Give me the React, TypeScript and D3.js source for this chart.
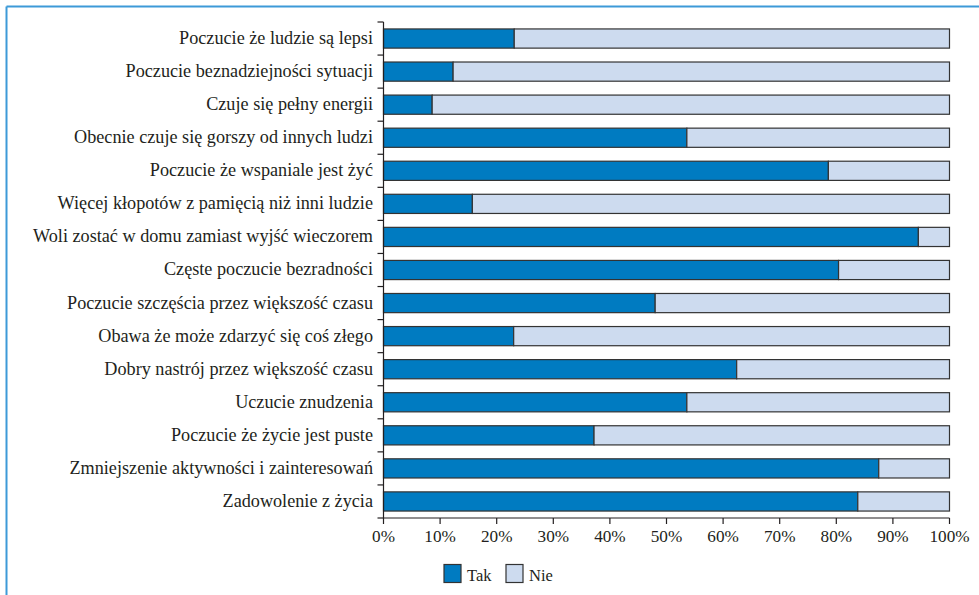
import React from "react";
import * as d3 from "d3";

// Survey items (top to bottom) and share of "Tak" answers in percent
const categories: string[] = [
  "Poczucie że ludzie są lepsi",
  "Poczucie beznadziejności sytuacji",
  "Czuje się pełny energii",
  "Obecnie czuje się gorszy od innych ludzi",
  "Poczucie że wspaniale jest żyć",
  "Więcej kłopotów z pamięcią niż inni ludzie",
  "Woli zostać w domu zamiast wyjść wieczorem",
  "Częste poczucie bezradności",
  "Poczucie szczęścia przez większość czasu",
  "Obawa że może zdarzyć się coś złego",
  "Dobry nastrój przez większość czasu",
  "Uczucie znudzenia",
  "Poczucie że życie jest puste",
  "Zmniejszenie aktywności i zainteresowań",
  "Zadowolenie z życia",
];

const takValues: number[] = [
  23.1, 12.3, 8.6, 53.6, 78.6, 15.7, 94.5, 80.4, 48.0, 23.0, 62.4, 53.6, 37.2, 87.5, 83.8,
];
const nieValues: number[] = takValues.map((v) => 100 - v);

const seriesNames: string[] = ["Tak", "Nie"];
const xTicks: number[] = [0, 10, 20, 30, 40, 50, 60, 70, 80, 90, 100];

const W = 979;
const H = 595;
const FONT = "'Liberation Serif'";
const COLORS = ["#007bc1", "#cddbef"];
const STROKE = "#333";
const INK = "#231f20";

export default function App() {
  const x = d3.scaleLinear().domain([0, 100]).range([383.5, 949.5]);
  const y = d3
    .scaleBand<string>()
    .domain(categories)
    .range([22, 518])
    .paddingInner(0.42)
    .paddingOuter(0.21);
  const step = y.step();
  const y0 = 22;
  const yAxis = 518;

  const stackData = categories.map((c, i) => ({ cat: c, Tak: takValues[i], Nie: nieValues[i] }));
  const stacked = d3.stack<any>().keys(seriesNames)(stackData);

  const boundaries = d3.range(categories.length + 1).map((k) => y0 + k * step);

  return (
    <svg width={W} height={H} style={{ position: "absolute", left: 0, top: 0, background: "#fff" }}>
      {/* frame */}
      <line x1={6.5} y1={6.5} x2={W} y2={6.5} stroke="#3d9ad8" strokeWidth={2} />
      <line x1={6.5} y1={6.5} x2={6.5} y2={H} stroke="#3d9ad8" strokeWidth={2} />

      {/* bars */}
      {stacked.map((layer, li) => (
        <g key={layer.key}>
          {layer.map((d, i) => (
            <rect
              key={i}
              x={x(d[0])}
              y={y(categories[i])}
              width={x(d[1]) - x(d[0])}
              height={y.bandwidth()}
              fill={COLORS[li]}
              stroke={STROKE}
              strokeWidth={1.2}
            />
          ))}
        </g>
      ))}

      {/* y axis */}
      <line x1={x(0)} y1={y0} x2={x(0)} y2={yAxis} stroke={INK} strokeWidth={1.2} />
      {boundaries.map((b, k) => (
        <line key={k} x1={x(0) - 6} y1={b} x2={x(0)} y2={b} stroke={INK} strokeWidth={1.2} />
      ))}
      {categories.map((c) => (
        <text
          key={c}
          x={373}
          y={(y(c) as number) + y.bandwidth() / 2}
          dy="0.3em"
          textAnchor="end"
          fill={INK}
          fontSize={18.2}
          style={{ fontFamily: FONT }}
        >
          {c}
        </text>
      ))}

      {/* x axis */}
      <line x1={x(0)} y1={yAxis} x2={x(100)} y2={yAxis} stroke={INK} strokeWidth={1.2} />
      {xTicks.map((t) => (
        <g key={t}>
          <line x1={x(t)} y1={yAxis} x2={x(t)} y2={yAxis + 6} stroke={INK} strokeWidth={1.2} />
          <text
            x={x(t)}
            y={yAxis + 24}
            textAnchor="middle"
            fill={INK}
            fontSize={17.2}
            style={{ fontFamily: FONT }}
          >
            {t}%
          </text>
        </g>
      ))}

      {/* legend */}
      {seriesNames.map((s, i) => {
        const lx = 444 + i * 62;
        return (
          <g key={s}>
            <rect x={lx} y={564.5} width={17} height={18} fill={COLORS[i]} stroke={STROKE} strokeWidth={1.2} />
            <text x={lx + 23} y={581} fill={INK} fontSize={16.5} style={{ fontFamily: FONT }}>
              {s}
            </text>
          </g>
        );
      })}
    </svg>
  );
}
